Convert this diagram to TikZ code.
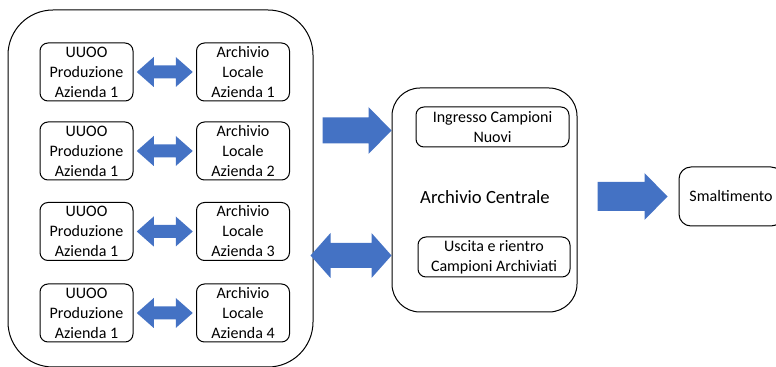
\documentclass[tikz,border=0pt]{standalone}
\usepackage{fontspec}
\setmainfont{Carlito}
\usetikzlibrary{calc}

\definecolor{arrowblue}{RGB}{68,114,196}

\tikzset{every picture/.style={line width=0.75pt}}
\tikzset{
  txt/.style={font=\fontsize{12}{15}\selectfont, align=center},
  smallbox/.style={txt, draw, rounded corners=6pt, minimum width=69.75pt, minimum height=43.5pt, inner sep=0pt},
  pics/dblarrow/.style n args={4}{code={%
    \fill[arrowblue] (-#1,0) -- (-#1+#4,-#2) -- (-#1+#4,-#3) -- (#1-#4,-#3) -- (#1-#4,-#2) -- (#1,0) -- (#1-#4,#2) -- (#1-#4,#3) -- (-#1+#4,#3) -- (-#1+#4,#2) -- cycle;}},
  pics/sglarrow/.style n args={4}{code={%
    \fill[arrowblue] (-#1,-#3) -- (#1-#4,-#3) -- (#1-#4,-#2) -- (#1,0) -- (#1-#4,#2) -- (#1-#4,#3) -- (-#1,#3) -- cycle;}},
}

\begin{document}
\begin{tikzpicture}[x=0.75pt,y=0.75pt,yscale=-1,xscale=1]

\useasboundingbox (0,0) rectangle (776,367);
\clip (0,0) rectangle (776,367);

%Rounded Rect (left group)
\node [draw, rounded corners=33.75pt, minimum width=228.75pt, minimum height=267.75pt] (grp) at (160.5,188.5) {};

% Rows of boxes
\foreach \i/\y in {1/72,2/151,3/231.5,4/313}{
  \node [smallbox] (u\i) at (86.5,\y) {UUOO\\Produzione\\Azienda 1};
  \node [smallbox] (a\i) at (243,\y) {Archivio\\Locale\\Azienda \i};
  \pic at ($(u\i.east)!0.5!(a\i.west)$) {dblarrow={28}{15}{6.5}{17}};
}

%Rounded Rect (central archive)
\node [draw, rounded corners=21pt, minimum width=138.75pt, minimum height=168pt] (central) at (484.5,200) {};
\node [txt] (ingr) at (492.5,127) [draw, rounded corners=6pt, minimum width=114.75pt, minimum height=30pt, inner sep=0pt] {Ingresso Campioni\\Nuovi};
\node [txt] (usc) at (494,257) [draw, rounded corners=6pt, minimum width=114pt, minimum height=30pt, inner sep=0pt] {Uscita e rientro\\Campioni Archiviati};
% Text Node
\node [txt, font=\fontsize{14}{17}\selectfont] (centlabel) at (485,197) {Archivio Centrale};

%Rounded Rect (disposal)
\node [txt, draw, rounded corners=9pt, minimum width=78pt, minimum height=44.25pt] (smalt) at (731,196.5) {Smaltimento};

% Block arrows
\pic at ($(central.west |- ingr)+(-34.5,3.5)$) {sglarrow={34.5}{23.5}{13}{23}};
\pic at ($(central.west |- usc)+(-40.5,-1.5)$) {dblarrow={40.5}{22.5}{12.5}{20}};
\pic at ($(smalt.west)+(-46,0)$) {sglarrow={35}{23.5}{14.5}{23}};

\end{tikzpicture}
\end{document}
